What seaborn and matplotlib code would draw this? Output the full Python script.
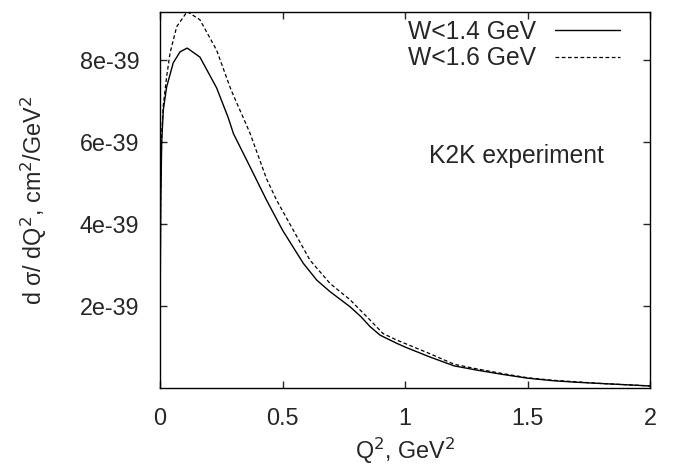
import numpy as np
import pandas as pd
import matplotlib
matplotlib.use("Agg")
import matplotlib.pyplot as plt
import seaborn as sns

q2_a = [0, 0.001, 0.003, 0.007, 0.0135, 0.027, 0.054, 0.082, 0.111, 0.163, 0.231, 0.278,
        0.30, 0.367, 0.435, 0.50, 0.585, 0.64, 0.694, 0.776, 0.82, 0.857, 0.898, 0.966,
        1.0, 1.1, 1.2, 1.29, 1.4, 1.5, 1.6, 1.7, 1.8, 1.9, 2.0]
w14 = [0, 2.5, 4.5, 6.0, 6.78, 7.34, 7.93, 8.20, 8.29, 8.07, 7.32, 6.6,
       6.2, 5.4, 4.58, 3.85, 3.04, 2.63, 2.35, 1.98, 1.74, 1.50, 1.29, 1.09,
       1.0, 0.76, 0.54, 0.44, 0.33, 0.24, 0.18, 0.14, 0.11, 0.08, 0.05]
q2_b = [0, 0.001, 0.003, 0.007, 0.0135, 0.027, 0.041, 0.068, 0.111, 0.163, 0.231, 0.29,
        0.367, 0.435, 0.476, 0.544, 0.612, 0.694, 0.776, 0.857, 0.91, 0.966,
        1.1, 1.2, 1.29, 1.4, 1.5, 1.6, 1.7, 1.8, 1.9, 2.0]
w16 = [0, 2.7, 4.8, 6.2, 6.9, 7.59, 8.17, 8.81, 9.18, 8.98, 8.24, 7.27,
       6.22, 5.1, 4.58, 3.85, 3.12, 2.55, 2.15, 1.66, 1.33, 1.17,
       0.84, 0.58, 0.47, 0.35, 0.25, 0.19, 0.15, 0.11, 0.08, 0.05]
labels = ["W<1.4 GeV", "W<1.6 GeV"]
xticks = [0, 0.5, 1, 1.5, 2]
xtick_labels = ["0", "0.5", "1", "1.5", "2"]
yticks = [2e-39, 4e-39, 6e-39, 8e-39]
ytick_labels = ["2e-39", "4e-39", "6e-39", "8e-39"]

df = pd.concat([
    pd.DataFrame({"q2": q2_a, "val": np.array(w14) * 1e-39, "series": labels[0]}),
    pd.DataFrame({"q2": q2_b, "val": np.array(w16) * 1e-39, "series": labels[1]}),
])

sns.set_style("ticks")
plt.rcParams['font.family'] = ['Liberation Sans', 'DejaVu Sans']

fig = plt.figure(figsize=(6.8, 4.66), dpi=100)
ax = fig.add_axes([160 / 680, 78 / 466, 490 / 680, 376 / 466])

sns.lineplot(data=df, x="q2", y="val", hue="series",
             palette=["black", "black"], linewidth=1.0, ax=ax,
             sort=False, estimator=None, legend=False)
lines = ax.get_lines()
lines[0].set_linestyle("-")
lines[1].set_linestyle((0, (3, 2)))
lines[1].set_linewidth(0.9)

ax.set_xlim(0, 2)
ax.set_ylim(0, 9.17e-39)
ax.set_xticks(xticks)
ax.set_xticklabels(xtick_labels)
ax.set_yticks(yticks)
ax.set_yticklabels(ytick_labels)
ax.tick_params(direction="in", top=True, right=True, labelsize=16.8, length=5, width=1)
ax.tick_params(axis="x", pad=14)
ax.tick_params(axis="y", pad=15)
for s in ax.spines.values():
    s.set_linewidth(1)
    s.set_color("black")

ax.set_xlabel("Q$^2$, GeV$^2$", fontsize=16.8, labelpad=4)
ax.set_ylabel("d σ/ dQ$^2$, cm$^2$/GeV$^2$", fontsize=16.8, labelpad=22)
ax.text((429 - 160) / 490, (388 - 163) / 376, "K2K experiment", transform=ax.transAxes,
        fontsize=17.7, va="baseline", ha="left")

leg = ax.legend(handles=lines[:2], labels=labels, loc="upper right",
                bbox_to_anchor=((620 - 160) / 490, (388 - 20) / 376),
                frameon=False, markerfirst=False, fontsize=17.7, handlelength=2.65,
                borderaxespad=0, borderpad=0, labelspacing=0.1, handletextpad=0.75)

fig.savefig("out.png", dpi=100)
